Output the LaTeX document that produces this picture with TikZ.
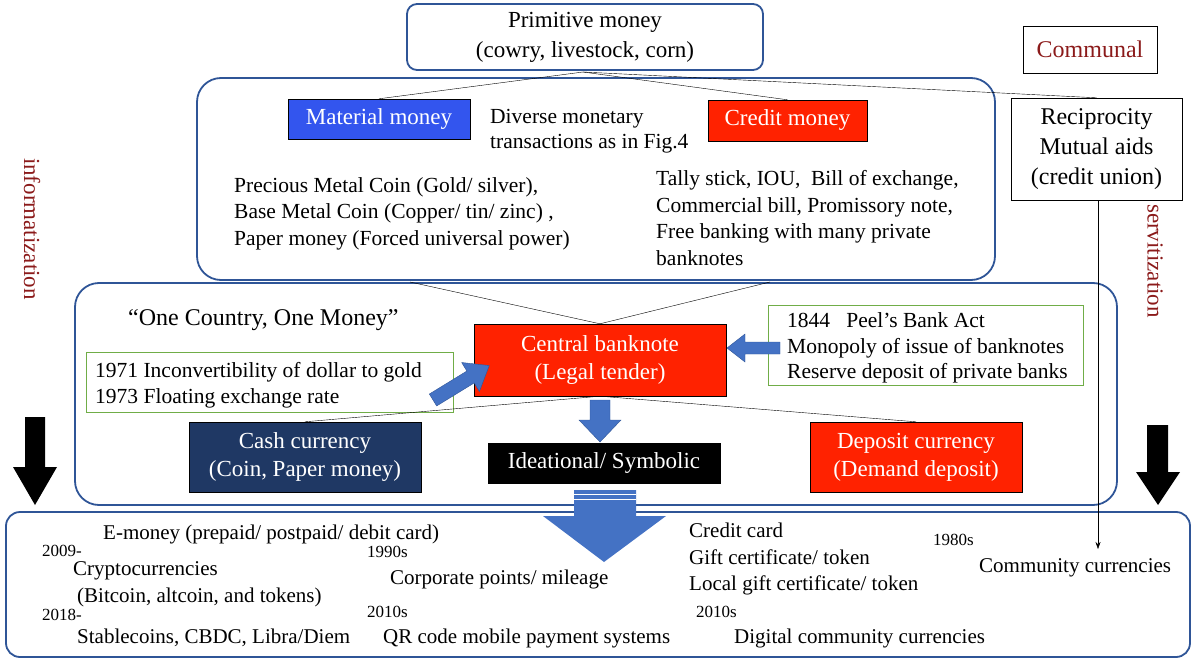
\documentclass[tikz,border=0pt]{standalone}
\usepackage{fontspec}
\setmainfont{Liberation Serif}
\usetikzlibrary{shapes.arrows,arrows.meta}
\definecolor{bblue}{HTML}{2F5597}
\definecolor{matblue}{HTML}{3355EE}
\definecolor{cred}{HTML}{FF2200}
\definecolor{navy}{HTML}{1F3864}
\definecolor{darkred}{HTML}{8B1A1A}
\definecolor{arrblue}{HTML}{4472C4}
\definecolor{gbox}{HTML}{70AD47}
\begin{document}
\begin{tikzpicture}[x=1pt,y=-1pt,
  every node/.style={font=\fontsize{23}{28}\selectfont},
  big/.style={draw=bblue,line width=1.8pt,rounded corners=24pt},
  fillbox/.style={draw=black,text=white,align=center,inner sep=0pt},
  t/.style={anchor=base west,inner sep=0pt,font=\fontsize{21.5}{26}\selectfont},
  tb/.style={anchor=base west,inner sep=0pt,font=\fontsize{21}{26}\selectfont},
  yr/.style={anchor=base west,inner sep=0pt,font=\fontsize{17}{20}\selectfont},
  gb/.style={draw=gbox,thin},
  con/.style={thin}]
\useasboundingbox (0,0) rectangle (1200,661);
% boxes
\draw[big] (197,78) rectangle (995,280);
\draw[big] (75,283) rectangle (1117,505);
\draw[big,rounded corners=14pt] (6,512) rectangle (1190,657);
\node[draw=bblue,line width=1.8pt,rounded corners=10pt,minimum width=356pt,minimum height=66pt,align=center,fill=white,inner sep=0pt] (prim) at (585,37) {Primitive money\\[2pt](cowry, livestock, corn)};
\node[draw=black,thin,minimum width=134pt,minimum height=47pt,text=darkred,font=\fontsize{24}{28}\selectfont] (comm) at (1090,49.5) {Communal};
\node[fillbox,fill=matblue,minimum width=182pt,minimum height=40pt] (mat) at (379,119) {Material money};
\node[fillbox,fill=cred,minimum width=159pt,minimum height=41pt] (cred) at (787.5,120.5) {Credit money};
\node[t] (div1) at (490,123) {Diverse monetary};
\node[t] (div2) at (490,148) {transactions as in Fig.4};
\node[draw=black,thin,minimum width=171pt,minimum height=102pt,align=center,fill=white,inner sep=0pt,font=\fontsize{24}{30}\selectfont] (recip) at (1096.5,149) {Reciprocity\\Mutual aids\\(credit union)};
\node[t] (l1) at (234,192) {Precious Metal Coin (Gold/ silver),};
\node[t] (l2) at (234,218) {Base Metal Coin (Copper/ tin/ zinc) ,};
\node[t] (l3) at (234,245) {Paper money (Forced universal power)};
\node[t] (r1) at (656,185) {Tally stick, IOU,\ \ Bill of exchange,};
\node[t] (r2) at (656,212) {Commercial bill, Promissory note,};
\node[t] (r3) at (656,238) {Free banking with many private};
\node[t] (r4) at (656,265) {banknotes};
\coordinate (pb) at (583,72);
\draw[con] (pb) -- (mat.north);
\draw[con] (pb) -- (cred.north);
\draw[con] (pb) -- (recip.north);
% level 3
\node[t,font=\fontsize{24}{28}\selectfont] (one) at (128,325) {“One Country, One Money”};
\node[fillbox,fill=cred,minimum width=252pt,minimum height=72pt] (cb) at (600,360) {Central banknote\\(Legal tender)};
\coordinate (b2l) at (410,282);
\coordinate (b2r) at (770,282);
\draw[con] (b2l) -- (cb.north);
\draw[con] (b2r) -- (cb.north);
\node[gb,minimum width=367pt,minimum height=60pt,inner sep=0pt] (g1) at (269.5,382) {};
\node[t] (g1a) at (95,377) {1971 Inconvertibility of dollar to gold};
\node[t] (g1b) at (95,403) {1973 Floating exchange rate};
\node[gb,minimum width=315pt,minimum height=80pt,inner sep=0pt] (g2) at (925.5,345) {};
\node[t] (g2a) at (787,327) {1844\ \ \ Peel’s Bank Act};
\node[t] (g2b) at (787,353) {Monopoly of issue of banknotes};
\node[t] (g2c) at (787,378) {Reserve deposit of private banks};
\node[fillbox,fill=navy,minimum width=232pt,minimum height=70pt] (cash) at (305,457) {Cash currency\\(Coin, Paper money)};
\node[fillbox,fill=black,minimum width=232pt,minimum height=40pt] (ide) at (604,463) {Ideational/ Symbolic};
\node[fillbox,fill=cred,minimum width=212pt,minimum height=70pt] (dep) at (916,457) {Deposit currency\\(Demand deposit)};
\draw[con] (cb.south) -- (cash.north);
\draw[con] (cb.south) -- (dep.north);
% blue arrows
\fill[arrblue,draw=bblue,thin] (780,342) -- (745,342) -- (745,334) -- (727,348) -- (745,362) -- (745,354) -- (780,354) -- cycle;
\fill[arrblue,draw=bblue,thin] (590,400) -- (610,400) -- (610,420) -- (621,420) -- (600,442) -- (579,420) -- (590,420) -- cycle;
\begin{scope}[shift={(433,400)},rotate=31.5]
\fill[arrblue,draw=bblue,thin] (0,-7) -- (44,-7) -- (44,-17) -- (66,0) -- (44,17) -- (44,7) -- (0,7) -- cycle;
\end{scope}
% big arrow
\fill[arrblue] (574,490) -- (636,490) -- (636,516) -- (666,516) -- (604,562) -- (543,516) -- (574,516) -- cycle;
\draw[white,line width=1pt] (574,494) -- (636,494) (574,499) -- (636,499);
% side labels
\node[rotate=-90,text=darkred,anchor=east,inner sep=0pt] (info) at (32,300) {informatization};
\fill[black] (25,417) rectangle (45,467) (13,467) -- (57,467) -- (35,505) -- cycle;
\node[rotate=-90,text=darkred,anchor=east,inner sep=0pt] (serv) at (1155,318) {servitization};
\fill[black] (1147,425) rectangle (1168,472) (1136,472) -- (1180,472) -- (1158,505) -- cycle;
% bottom texts
\node[tb] at (103,539) {E-money (prepaid/ postpaid/ debit card)};
\node[yr] at (42,556) {2009-};
\node[tb] at (73,575) {Cryptocurrencies};
\node[tb] at (77,602) {(Bitcoin, altcoin, and tokens)};
\node[yr] at (42,620) {2018-};
\node[tb] at (77,643) {Stablecoins, CBDC, Libra/Diem};
\node[yr] at (367,557) {1990s};
\node[tb] at (390,584) {Corporate points/ mileage};
\node[yr] at (367,617) {2010s};
\node[tb] at (383,643) {QR code mobile payment systems};
\node[tb] at (689,537) {Credit card};
\node[tb] at (689,564) {Gift certificate/ token};
\node[tb] at (689,590) {Local gift certificate/ token};
\node[yr] at (696,617) {2010s};
\node[tb] at (734,643) {Digital community currencies};
\node[yr] at (933,545) {1980s};
\node[tb] (ccur) at (979,572) {Community currencies};
\coordinate (cc) at (1098,549);
\draw[con,-{Stealth[length=7pt,width=5pt]}] (recip.south -| cc) -- (cc);
\end{tikzpicture}
\end{document}
